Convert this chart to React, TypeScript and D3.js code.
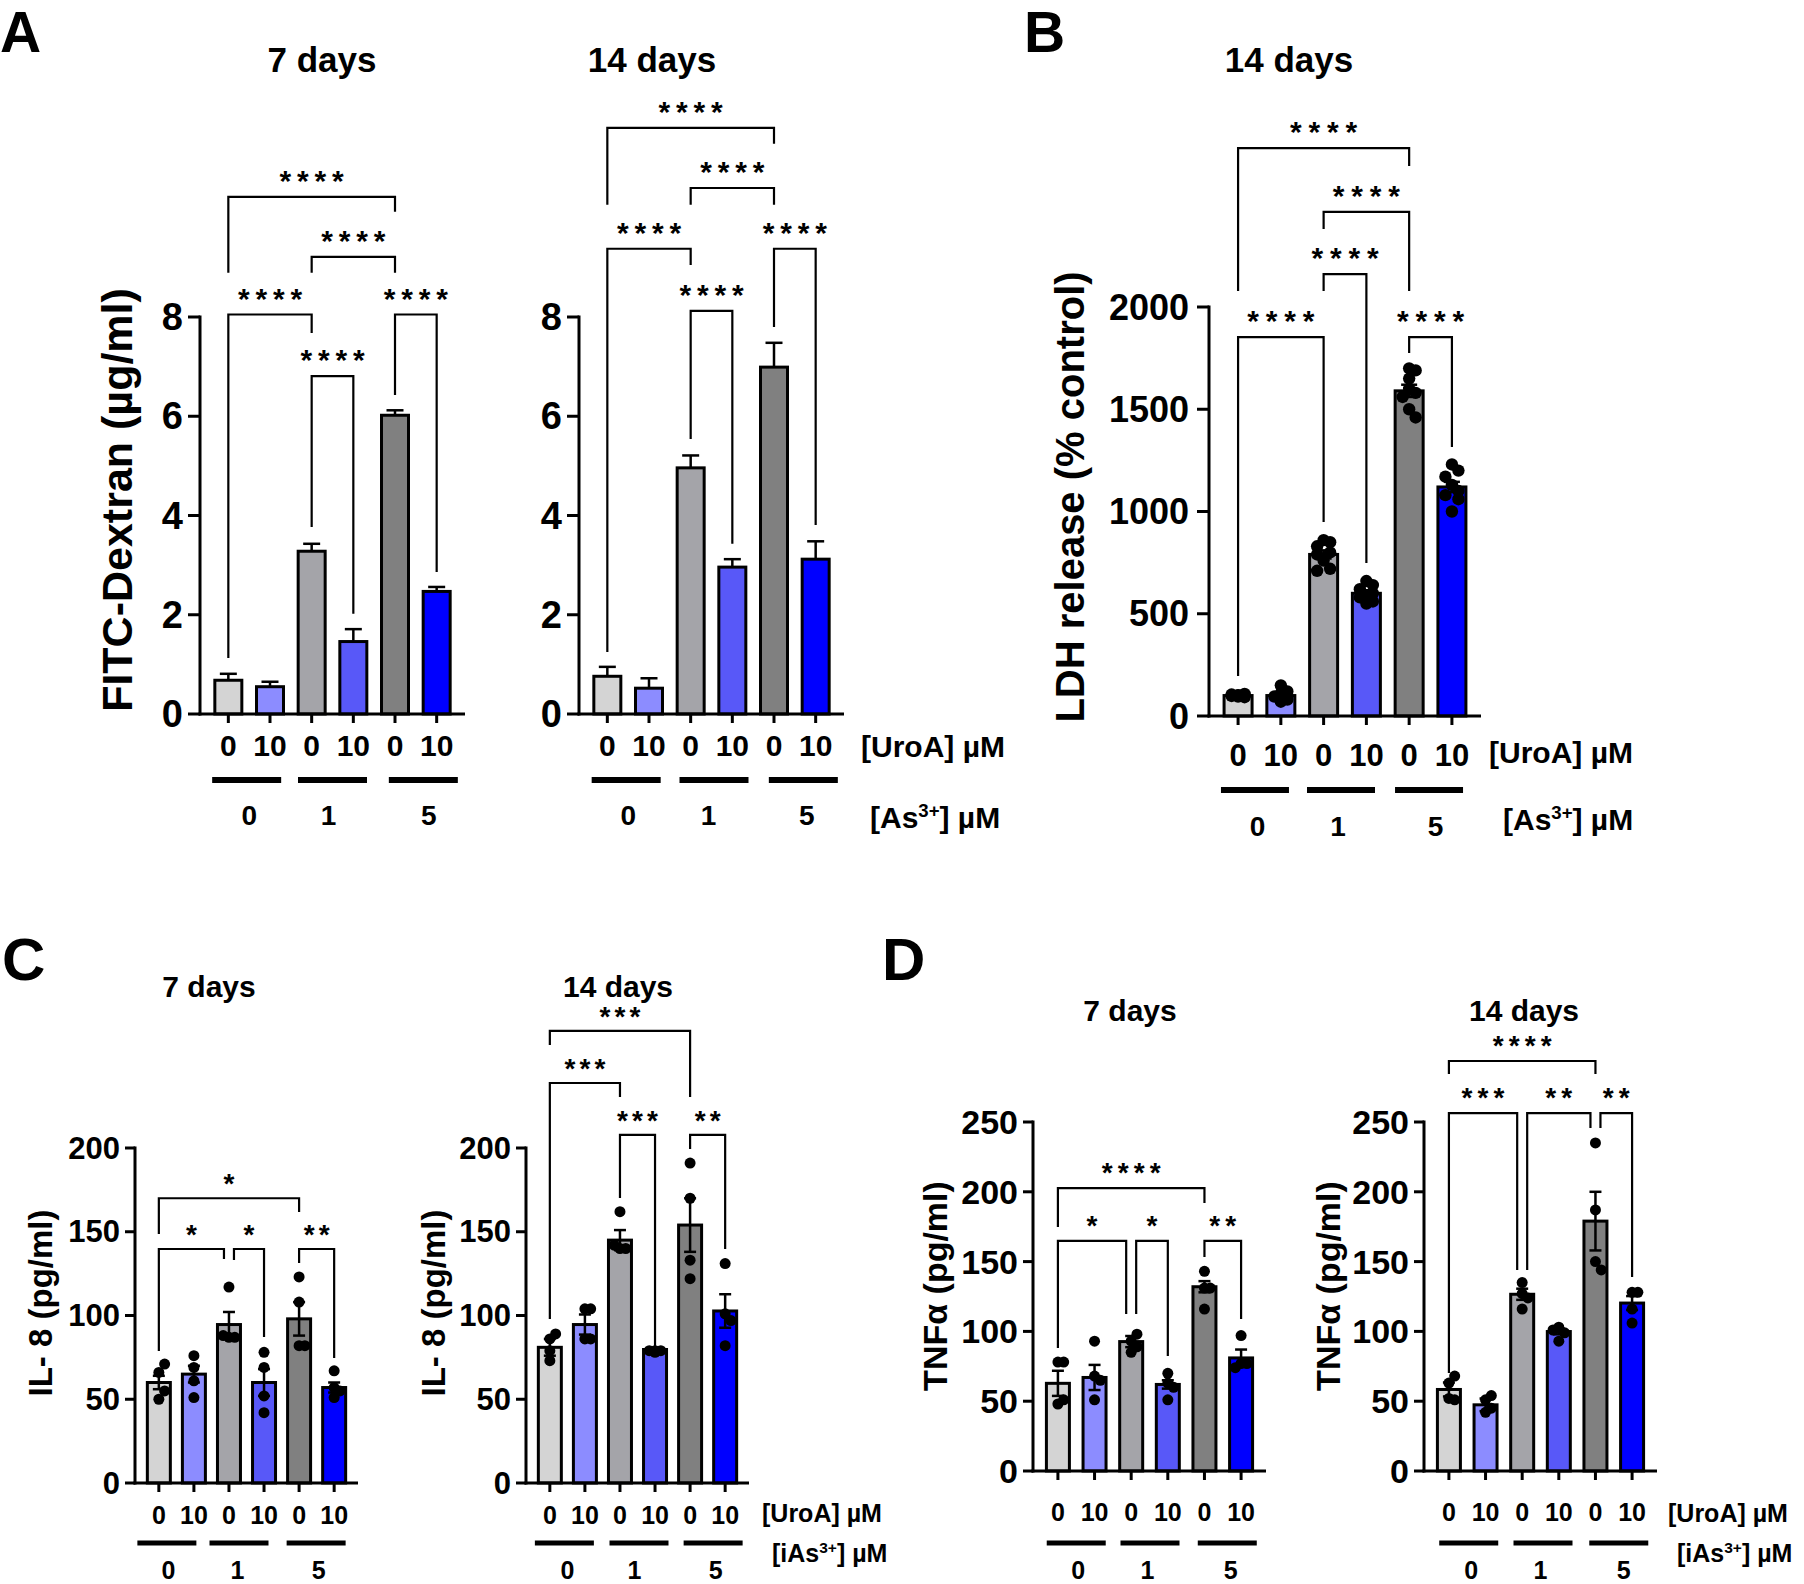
import React, { useEffect } from 'react';
import * as d3 from 'd3';

// ---------- data ----------
const uroaDoses = ['0', '10', '0', '10', '0', '10'];
const arsenicDoses = ['0', '1', '5'];

const fitc7Mean = [0.68, 0.55, 3.28, 1.46, 6.02, 2.47];
const fitc7Sem = [0.13, 0.1, 0.15, 0.25, 0.1, 0.09];
const fitc14Mean = [0.76, 0.52, 4.96, 2.96, 6.99, 3.12];
const fitc14Sem = [0.19, 0.2, 0.25, 0.16, 0.49, 0.36];

const ldhMean = [100, 100, 790, 600, 1590, 1120];
const ldhSem = [5, 10, 20, 15, 30, 25];
const ldhPoints = [
  [95, 100, 105, 98, 102, 92, 108, 100],
  [150, 120, 95, 80, 70, 85, 110, 90],
  [860, 850, 830, 800, 790, 760, 720, 710],
  [660, 640, 620, 600, 590, 580, 560, 550],
  [1700, 1690, 1650, 1600, 1580, 1560, 1500, 1460],
  [1230, 1200, 1170, 1130, 1100, 1080, 1060, 1000],
];

const il8d7Mean = [60, 65, 94.6, 60, 98, 57];
const il8d7Sem = [4, 5, 7.5, 8, 10, 3];
const il8d7Points = [
  [66, 71, 50, 55], [76, 69, 61, 51], [117, 87, 87, 88],
  [78, 69, 52, 42], [123, 108, 82, 82], [67, 51, 57, 55],
];
const il8d14Mean = [81, 94.6, 145, 79.7, 154, 102.7];
const il8d14Sem = [5, 6, 6, 1, 16, 10];
const il8d14Points = [
  [86, 89, 79, 73], [104, 104, 86, 86], [162, 140, 140, 142],
  [79, 79, 79, 78], [191, 170, 133, 122], [131, 101, 97, 82],
];

const tnf7Mean = [62.8, 67, 92.7, 62, 132, 81];
const tnf7Sem = [9, 9, 4, 3, 4, 6];
const tnf7Points = [
  [78, 78, 48, 51], [93, 68, 65, 51], [93, 98, 85, 89],
  [70, 63, 60, 51], [143, 131, 131, 116], [97, 77, 77, 74],
];
const tnf14Mean = [58.4, 47.4, 126.6, 99.9, 179, 120.3];
const tnf14Sem = [5, 4.5, 4, 2, 21, 5];
const tnf14Points = [
  [63, 68, 52, 51], [51, 54, 42, 45], [135, 127, 124, 116],
  [103, 99, 93, 101], [235, 187, 150, 144], [128, 128, 116, 106],
];

type Bracket = { a: number; b: number; y: number; ya: number; yb: number; label: string };

const fitc7Brackets: Bracket[] = [
  { a: 0, b: 4, y: 10.42, ya: 8.89, yb: 10.12, label: '****' },
  { a: 2, b: 4, y: 9.21, ya: 8.89, yb: 8.89, label: '****' },
  { a: 0, b: 2, y: 8.05, ya: 1.13, yb: 7.68, label: '****' },
  { a: 2, b: 3, y: 6.81, ya: 3.77, yb: 2.02, label: '****' },
  { a: 4, b: 5, y: 8.05, ya: 6.43, yb: 2.86, label: '****' },
];
const fitc14Brackets: Bracket[] = [
  { a: 0, b: 4, y: 11.81, ya: 10.26, yb: 11.49, label: '****' },
  { a: 2, b: 4, y: 10.6, ya: 10.26, yb: 10.26, label: '****' },
  { a: 0, b: 2, y: 9.375, ya: 1.25, yb: 9.05, label: '****' },
  { a: 2, b: 3, y: 8.125, ya: 5.54, yb: 3.43, label: '****' },
  { a: 4, b: 5, y: 9.375, ya: 7.8, yb: 3.81, label: '****' },
];
const ldhBrackets: Bracket[] = [
  { a: 0, b: 4, y: 2777, ya: 2078, yb: 2689, label: '****' },
  { a: 2, b: 4, y: 2465, ya: 2381, yb: 2078, label: '****' },
  { a: 2, b: 3, y: 2161, ya: 2078, yb: 748, label: '****' },
  { a: 0, b: 2, y: 1853, ya: 196, yb: 949, label: '****' },
  { a: 4, b: 5, y: 1853, ya: 1775, yb: 1315, label: '****' },
];
const il8d7Brackets: Bracket[] = [
  { a: 0, b: 4, y: 170, ya: 148.7, yb: 161.8, label: '*' },
  { a: 0, b: 2, y: 139.7, ya: 78.8, yb: 133.7, label: '*' },
  { a: 2, b: 3, y: 139.7, ya: 133.1, yb: 87.2, label: '*' },
  { a: 4, b: 5, y: 139.7, ya: 131.3, yb: 74.6, label: '**' },
];
const il8d14Brackets: Bracket[] = [
  { a: 0, b: 4, y: 269.9, ya: 261.5, yb: 230.4, label: '***' },
  { a: 0, b: 2, y: 238.8, ya: 97.9, yb: 230.4, label: '***' },
  { a: 2, b: 3, y: 207.8, ya: 170.1, yb: 81.2, label: '***' },
  { a: 4, b: 5, y: 207.8, ya: 199.4, yb: 139.7, label: '**' },
];
const tnf7Brackets: Bracket[] = [
  { a: 0, b: 4, y: 202.7, ya: 174.8, yb: 192, label: '****' },
  { a: 0, b: 2, y: 164.8, ya: 88.1, yb: 112.5, label: '*' },
  { a: 2, b: 3, y: 164.8, ya: 112.5, yb: 82.4, label: '*' },
  { a: 4, b: 5, y: 164.8, ya: 153.3, yb: 108.9, label: '**' },
];
const tnf14Brackets: Bracket[] = [
  { a: 0, b: 4, y: 293.7, ya: 284.4, yb: 284.4, label: '****' },
  { a: 0, b: 2, y: 256.4, ya: 70.2, yb: 144, label: '***' },
  { a: 2, b: 4, y: 256.4, ya: 144, yb: 245.7, label: '**' },
  { a: 4, b: 5, y: 256.4, ya: 245.7, yb: 139, label: '**' },
];

const fitcTicks = [0, 2, 4, 6, 8];
const ldhTicks = [0, 500, 1000, 1500, 2000];
const il8Ticks = [0, 50, 100, 150, 200];
const tnfTicks = [0, 50, 100, 150, 200, 250];

// ---------- styling ----------
const FONT = 'Arial, "Liberation Sans", Helvetica, sans-serif';
const BAR_COLORS = ['#d4d4d4', '#8c8cff', '#a4a4a9', '#5858f8', '#808080', '#0000ff'];

function swarm(values: number[], y: (v: number) => number, r: number, maxOff: number) {
  const placed: { x: number; y: number }[] = [];
  const step = r * 1.05;
  const cands: number[] = [0];
  for (let k = 1; k * step <= maxOff + 0.01; k++) cands.push(k * step, -k * step);
  return values.map((v) => {
    const py = y(v);
    let best = 0;
    let bestD = -1;
    let found = false;
    for (const o of cands) {
      const d = placed.length ? Math.min(...placed.map((p) => Math.hypot(p.x - o, p.y - py))) : Infinity;
      if (d >= 2 * r * 0.8) {
        best = o;
        found = true;
        break;
      }
      if (d > bestD) {
        bestD = d;
        best = o;
      }
    }
    if (!found && bestD < 0) best = 0;
    placed.push({ x: best, y: py });
    return { x: best, y: py };
  });
}

function T(props: any) {
  const { children, size, anchor = 'middle', weight = 'bold', ...rest } = props;
  return (
    <text fontFamily={FONT} fontSize={size} fontWeight={weight} textAnchor={anchor} fill="#000" {...rest}>
      {children}
    </text>
  );
}

function AsLabel({ x, y, size, prefix }: { x: number; y: number; size: number; prefix: string }) {
  return (
    <T x={x} y={y} size={size} anchor="start" xmlSpace="preserve">
      {`[${prefix}As`}
      <tspan dy={-size * 0.38} fontSize={size * 0.62}>3+</tspan>
      <tspan dy={size * 0.38}>{'] µM'}</tspan>
    </T>
  );
}

interface PanelCfg {
  means: number[];
  sems: number[];
  points?: number[][];
  brackets: Bracket[];
  yMax: number;
  yTicks: number[];
  left: number;
  right: number;
  y0: number;
  yTop: number;
  barW: number;
  dotR: number;
  tickLen: number;
  tickFont: number;
  labelGap: number;
  capW: number;
  starSize: number;
  starPitch: number;
  starGap: number;
  xLabelY: number;
  xLabelFont: number;
  groupY: number;
  groupW: number;
  groupH: number;
  groupShift: number[];
  groupLabelY: number;
  groupLabelFont: number;
  groupLabelShift: number[];
  title: string;
  titleX: number;
  titleY: number;
  titleFont: number;
  yTitle: string;
  yTitleX: number;
  yTitleY: number;
  yTitleFont: number;
}

function Panel({ c }: { c: PanelCfg }) {
  const x = d3.scalePoint<number>().domain(d3.range(6)).range([c.left, c.right]).padding(0.68);
  const y = d3.scaleLinear().domain([0, c.yMax]).range([c.y0, c.yTop]);
  const cx = (i: number) => x(i) as number;
  const both = !!c.points;
  const nudge = 5;

  const errs = c.means.map((m, i) => {
    const top = y(m + c.sems[i]);
    const bot = both ? y(m - c.sems[i]) : y(m);
    const xc = cx(i);
    return (
      <g key={'e' + i} stroke="#000" strokeWidth={2.5} fill="none">
        <line x1={xc} x2={xc} y1={top} y2={bot} />
        <line x1={xc - c.capW / 2} x2={xc + c.capW / 2} y1={top} y2={top} />
        {both && <line x1={xc - c.capW / 2} x2={xc + c.capW / 2} y1={bot} y2={bot} />}
      </g>
    );
  });

  return (
    <g>
      <T x={c.titleX} y={c.titleY} size={c.titleFont}>{c.title}</T>
      {c.yTitle && (
        <T
          transform={`translate(${c.yTitleX},${c.yTitleY}) rotate(-90)`}
          size={c.yTitleFont}
          dominantBaseline="central"
        >
          {c.yTitle}
        </T>
      )}
      {!both && errs}
      {c.means.map((m, i) => (
        <rect
          key={'b' + i}
          x={cx(i) - c.barW / 2}
          y={y(m)}
          width={c.barW}
          height={c.y0 - y(m)}
          fill={BAR_COLORS[i]}
          stroke="#000"
          strokeWidth={3}
        />
      ))}
      {c.points &&
        c.points.map((pts, i) =>
          swarm(pts, y, c.dotR, c.barW / 2 - 1).map((p, k) => (
            <circle key={`p${i}-${k}`} cx={cx(i) + p.x} cy={p.y} r={c.dotR} fill="#000" />
          ))
        )}
      {both && errs}
      <g stroke="#000" strokeWidth={3} fill="none">
        <line x1={c.left} x2={c.left} y1={c.y0 + 1.5} y2={c.yTop - 1.5} />
        <line x1={c.left - 1.5} x2={c.right} y1={c.y0} y2={c.y0} />
        {c.yTicks.map((t) => (
          <line key={'yt' + t} x1={c.left - c.tickLen} x2={c.left} y1={y(t)} y2={y(t)} />
        ))}
        {d3.range(6).map((i) => (
          <line key={'xt' + i} x1={cx(i)} x2={cx(i)} y1={c.y0} y2={c.y0 + 9} />
        ))}
      </g>
      {c.yTicks.map((t) => (
        <T
          key={'yl' + t}
          x={c.left - c.tickLen - c.labelGap}
          y={y(t)}
          size={c.tickFont}
          anchor="end"
          dominantBaseline="central"
        >
          {String(t)}
        </T>
      ))}
      {uroaDoses.map((d, i) => (
        <T key={'xl' + i} x={cx(i)} y={c.xLabelY} size={c.xLabelFont}>{d}</T>
      ))}
      {arsenicDoses.map((g, k) => {
        const mid = (cx(2 * k) + cx(2 * k + 1)) / 2;
        const gx = mid + c.groupShift[k];
        return (
          <g key={'g' + k}>
            <rect x={gx - c.groupW / 2} y={c.groupY - c.groupH / 2} width={c.groupW} height={c.groupH} fill="#000" />
            <T x={mid + c.groupLabelShift[k]} y={c.groupLabelY} size={c.groupLabelFont}>{g}</T>
          </g>
        );
      })}
      {c.brackets.map((b, i) => {
        let xa = cx(b.a);
        let xb = cx(b.b);
        if (c.brackets.some((o, j) => j !== i && Math.abs(o.y - b.y) < 1e-6 && o.b === b.a)) xa += nudge;
        if (c.brackets.some((o, j) => j !== i && Math.abs(o.y - b.y) < 1e-6 && o.a === b.b)) xb -= nudge;
        const yl = y(b.y);
        const n = b.label.length;
        const mid = (xa + xb) / 2;
        const starY = yl - c.starGap + c.starSize * 0.57;
        return (
          <g key={'br' + i}>
            <path
              d={`M${xa},${y(b.ya)}V${yl}H${xb}V${y(b.yb)}`}
              fill="none"
              stroke="#000"
              strokeWidth={2.2}
            />
            {d3.range(n).map((s) => (
              <T key={s} x={mid + (s - (n - 1) / 2) * c.starPitch} y={starY} size={c.starSize}>*</T>
            ))}
          </g>
        );
      })}
    </g>
  );
}

const baseA = {
  yMax: 8, yTicks: fitcTicks, y0: 714, yTop: 317, barW: 27, dotR: 0, tickLen: 12, tickFont: 38, labelGap: 5,
  capW: 17, starSize: 30, starPitch: 17.5, starGap: 23,
  xLabelY: 756, xLabelFont: 30, groupY: 780, groupW: 69, groupH: 6, groupLabelY: 825, groupLabelFont: 28,
  titleY: 72, titleFont: 35, yTitle: 'FITC-Dextran (µg/ml)', yTitleY: 500, yTitleFont: 43,
};

const panelA1: PanelCfg = {
  ...baseA, means: fitc7Mean, sems: fitc7Sem, brackets: fitc7Brackets, left: 200, right: 465,
  groupShift: [-2.5, 0, 7.5], groupLabelShift: [0, -4, 13],
  title: '7 days', titleX: 322, yTitleX: 117,
} as PanelCfg;

const panelA2: PanelCfg = {
  ...baseA, means: fitc14Mean, sems: fitc14Sem, brackets: fitc14Brackets, left: 579, right: 844,
  groupShift: [-2, 2.5, 8.5], groupLabelShift: [0, -3, 12],
  title: '14 days', titleX: 652, yTitleX: 0, yTitle: '',
} as PanelCfg;

const panelB: PanelCfg = {
  means: ldhMean, sems: ldhSem, points: ldhPoints, brackets: ldhBrackets,
  yMax: 2000, yTicks: ldhTicks, left: 1209, right: 1481, y0: 716, yTop: 307, barW: 28, dotR: 6.2,
  tickLen: 12, tickFont: 36, labelGap: 8, capW: 16, starSize: 30, starPitch: 18.5, starGap: 23,
  xLabelY: 766, xLabelFont: 31, groupY: 790, groupW: 68, groupH: 6, groupShift: [-4.5, -4, -1.5],
  groupLabelY: 836, groupLabelFont: 28, groupLabelShift: [-2, -7, 5],
  title: '14 days', titleX: 1289, titleY: 72, titleFont: 35,
  yTitle: 'LDH release (% control)', yTitleX: 1070, yTitleY: 497, yTitleFont: 40,
};

const baseC = {
  yMax: 200, yTicks: il8Ticks, y0: 1483, yTop: 1148, barW: 23, dotR: 5.5, tickLen: 10, tickFont: 31, labelGap: 5,
  capW: 12, starSize: 28, starPitch: 15, starGap: 21,
  xLabelY: 1524, xLabelFont: 25, groupY: 1543, groupW: 59, groupH: 5, groupLabelY: 1579, groupLabelFont: 25,
  titleY: 997, titleFont: 30, yTitle: 'IL- 8 (pg/ml)', yTitleY: 1303, yTitleFont: 33,
};

const panelC1: PanelCfg = {
  ...baseC, means: il8d7Mean, sems: il8d7Sem, points: il8d7Points, brackets: il8d7Brackets, left: 135, right: 358,
  groupShift: [-9.5, -7.5, -0.5], groupLabelShift: [-8, -9, 2], title: '7 days', titleX: 209, yTitleX: 40,
} as PanelCfg;

const panelC2: PanelCfg = {
  ...baseC, means: il8d14Mean, sems: il8d14Sem, points: il8d14Points, brackets: il8d14Brackets, left: 526, right: 749,
  groupShift: [-3, 1.5, 5.5], groupLabelShift: [0, -3, 8], title: '14 days', titleX: 618, yTitleX: 433,
} as PanelCfg;

const baseD = {
  yMax: 250, yTicks: tnfTicks, y0: 1471, yTop: 1122, barW: 23, dotR: 5.5, tickLen: 10, tickFont: 34, labelGap: 5,
  capW: 12, starSize: 28, starPitch: 16, starGap: 22,
  xLabelY: 1521, xLabelFont: 25, groupY: 1543, groupW: 59, groupH: 5, groupLabelY: 1579, groupLabelFont: 25,
  titleY: 1021, titleFont: 30, yTitle: 'TNFα (pg/ml)', yTitleY: 1286, yTitleFont: 34,
};

const panelD1: PanelCfg = {
  ...baseD, means: tnf7Mean, sems: tnf7Sem, points: tnf7Points, brackets: tnf7Brackets, left: 1033, right: 1266,
  groupShift: [0, 0.5, 4.5], groupLabelShift: [2, -2, 8], title: '7 days', titleX: 1130, yTitleX: 935,
} as PanelCfg;

const panelD2: PanelCfg = {
  ...baseD, means: tnf14Mean, sems: tnf14Sem, points: tnf14Points, brackets: tnf14Brackets, left: 1424, right: 1657,
  groupShift: [1.5, 2.5, 5], groupLabelShift: [4, 0, 10], title: '14 days', titleX: 1524, yTitleX: 1328,
} as PanelCfg;

export default function App() {
  useEffect(() => {
    document.body.style.margin = '0';
    document.body.style.overflow = 'hidden';
  }, []);
  return (
    <svg
      width={1804}
      height={1584}
      viewBox="0 0 1804 1584"
      style={{ position: 'absolute', left: 0, top: 0, display: 'block', background: '#fff' }}
    >
      <rect x={0} y={0} width={1804} height={1584} fill="#fff" />
      <T x={0} y={52} size={57} anchor="start">A</T>
      <T x={1024} y={52} size={57} anchor="start">B</T>
      <T x={2} y={980} size={60} anchor="start">C</T>
      <T x={882} y={980} size={60} anchor="start">D</T>

      <Panel c={panelA1} />
      <Panel c={panelA2} />
      <T x={861} y={757} size={30} anchor="start" xmlSpace="preserve">{'[UroA] µM'}</T>
      <AsLabel x={870} y={828} size={30} prefix="" />

      <Panel c={panelB} />
      <T x={1489} y={763} size={30} anchor="start" xmlSpace="preserve">{'[UroA] µM'}</T>
      <AsLabel x={1503} y={830} size={30} prefix="" />

      <Panel c={panelC1} />
      <Panel c={panelC2} />
      <T x={762} y={1522} size={25} anchor="start" xmlSpace="preserve">{'[UroA] µM'}</T>
      <AsLabel x={772} y={1562} size={25} prefix="i" />

      <Panel c={panelD1} />
      <Panel c={panelD2} />
      <T x={1668} y={1522} size={25} anchor="start" xmlSpace="preserve">{'[UroA] µM'}</T>
      <AsLabel x={1677} y={1562} size={25} prefix="i" />
    </svg>
  );
}
